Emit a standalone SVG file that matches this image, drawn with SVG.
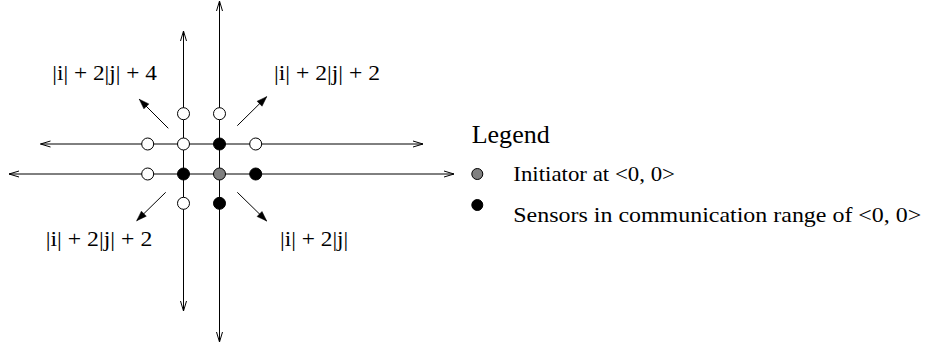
<svg xmlns="http://www.w3.org/2000/svg" width="927" height="349" viewBox="0 0 927 349">
<style>
  text { font-family: "Liberation Serif", "Times New Roman", serif; fill: #000; }
  .lbl { font-size: 22px; }
  .leg { font-size: 22px; }
  .axis { stroke: #000; stroke-width: 1; fill: none; marker-start: url(#openS); marker-end: url(#openE); }
  .diag { stroke: #000; stroke-width: 1; fill: none; marker-end: url(#solid); }
  .open { fill: #fff; stroke: #000; stroke-width: 1; }
  .sensor { fill: #000; stroke: #000; stroke-width: 1; }
  .init { fill: #808080; stroke: #000; stroke-width: 1; }
</style>
<defs>
  <marker id="openE" markerUnits="userSpaceOnUse" viewBox="-12 -5 14 10" refX="0" refY="0" markerWidth="14" markerHeight="10" orient="auto">
    <path d="M -10 -3 L 0 0 L -10 3" fill="none" stroke="#000" stroke-width="1"/>
  </marker>
  <marker id="openS" markerUnits="userSpaceOnUse" viewBox="-2 -5 14 10" refX="0" refY="0" markerWidth="14" markerHeight="10" orient="auto">
    <path d="M 10 -3 L 0 0 L 10 3" fill="none" stroke="#000" stroke-width="1"/>
  </marker>
  <marker id="solid" markerUnits="userSpaceOnUse" viewBox="-11 -5 12 10" refX="0" refY="0" markerWidth="12" markerHeight="10" orient="auto">
    <path d="M -10 -3.5 L 0 0 L -10 3.5 Z" fill="#000" stroke="#000" stroke-width="0.5"/>
  </marker>
</defs>

<g id="connectors">
  <line class="axis" x1="183.5" y1="31" x2="183.5" y2="311"/>
  <line class="axis" x1="219.5" y1="1" x2="219.5" y2="342"/>
  <line class="axis" x1="40.5" y1="144" x2="423" y2="144"/>
  <line class="axis" x1="9" y1="174" x2="454" y2="174"/>
  <line class="diag" x1="168.3" y1="128.3" x2="139.3" y2="99.3"/>
  <line class="diag" x1="237.3" y1="125.7" x2="266.7" y2="96.7"/>
  <line class="diag" x1="165.7" y1="192.3" x2="136.7" y2="220.7"/>
  <line class="diag" x1="237.3" y1="192.3" x2="266.7" y2="221"/>
</g>

<g id="n-m1-p2"><circle class="open" cx="183.5" cy="113.7" r="6"/></g>
<g id="n-0-p2"><circle class="open" cx="219.5" cy="113.7" r="6"/></g>
<g id="n-m2-p1"><circle class="open" cx="147.7" cy="144" r="6"/></g>
<g id="n-m1-p1"><circle class="open" cx="183.5" cy="144" r="6"/></g>
<g id="n-0-p1"><circle class="sensor" cx="219.5" cy="144" r="6"/></g>
<g id="n-1-p1"><circle class="open" cx="255.7" cy="144" r="6"/></g>
<g id="n-m2-0"><circle class="open" cx="147.7" cy="174" r="6"/></g>
<g id="n-m1-0"><circle class="sensor" cx="183.5" cy="174" r="6"/></g>
<g id="n-0-0"><circle class="init" cx="219.5" cy="174" r="6"/></g>
<g id="n-1-0"><circle class="sensor" cx="255.7" cy="174" r="6"/></g>
<g id="n-m1-m1"><circle class="open" cx="183.5" cy="203.3" r="6"/></g>
<g id="n-0-m1"><circle class="sensor" cx="219.5" cy="203.3" r="6"/></g>

<g id="labels">
  <text class="lbl" x="52.3" y="80" textLength="104.5" lengthAdjust="spacingAndGlyphs">|i| + 2|j| + 4</text>
  <text class="lbl" x="274" y="80" textLength="106" lengthAdjust="spacingAndGlyphs">|i| + 2|j| + 2</text>
  <text class="lbl" x="45.7" y="246" textLength="106.6" lengthAdjust="spacingAndGlyphs">|i| + 2|j| + 2</text>
  <text class="lbl" x="280" y="246" textLength="68.3" lengthAdjust="spacingAndGlyphs">|i| + 2|j|</text>
</g>

<g id="legend">
  <text x="471.7" y="143.3" style="font-size:25px" textLength="78" lengthAdjust="spacingAndGlyphs">Legend</text>
  <circle class="init" cx="477.3" cy="174" r="5.5"/>
  <text class="leg" x="513.3" y="180.5" textLength="161.7" lengthAdjust="spacingAndGlyphs">Initiator at &lt;0, 0&gt;</text>
  <circle class="sensor" cx="477.3" cy="205" r="5.5"/>
  <text class="leg" x="513.3" y="222" textLength="408" lengthAdjust="spacingAndGlyphs">Sensors in communication range of &lt;0, 0&gt;</text>
</g>
</svg>
